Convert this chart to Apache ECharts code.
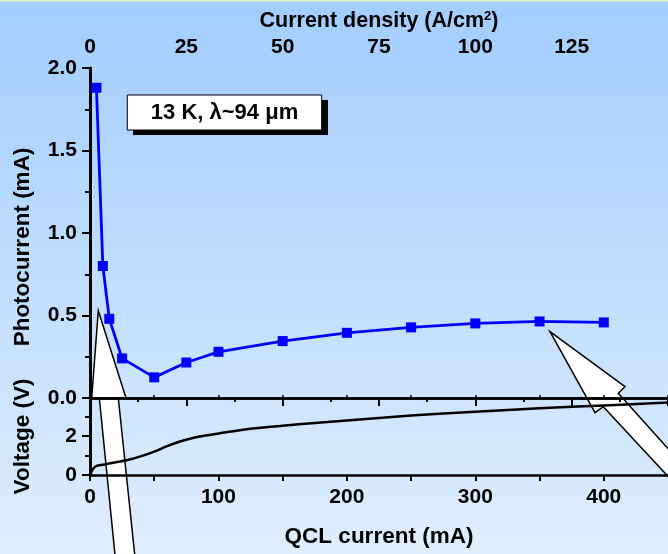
<!DOCTYPE html>
<html>
<head>
<meta charset="utf-8">
<script src="https://cdn.jsdelivr.net/npm/echarts@6/dist/echarts.min.js"></script>
<style>
html,body{margin:0;padding:0;}
#c{width:668px;height:554px;}
</style>
</head>
<body>
<div id="c"></div>
<script>
// Upper panel: photocurrent vs QCL current
const qclCurrentPhoto = [5, 10, 15, 25, 50, 75, 100, 150, 200, 250, 300, 350, 400];
const photocurrent = [1.88, 0.80, 0.48, 0.24, 0.125, 0.215, 0.28, 0.345, 0.395, 0.428, 0.452, 0.464, 0.458];
// Lower panel: voltage vs QCL current
const qclCurrentV = [0, 1, 2.5, 5, 10, 20, 30, 40, 50, 60, 70, 80, 90, 100, 125, 150, 175, 200, 250, 300, 350, 400, 450];
const voltage = [0, 0.15, 0.32, 0.47, 0.53, 0.65, 0.78, 0.97, 1.2, 1.48, 1.72, 1.9, 2.03, 2.13, 2.37, 2.53, 2.67, 2.8, 3.05, 3.25, 3.42, 3.57, 3.72];
const labelText = '13 K, \u03bb~94 \u03bcm';

const FF = "'Liberation Sans', Arial, sans-serif";
const FS = 21;
const NFS = 22.5;
const black = '#000';

const chart = echarts.init(document.getElementById('c'), null, {renderer: 'canvas'});

const lbl = (extra) => Object.assign({color: black, fontFamily: FF, fontWeight: 'bold', fontSize: FS}, extra || {});

const option = {
  animation: false,
  grid: [
    {left: 90, top: 68, width: 581.4, height: 330},
    {left: 90, top: 398, width: 581.4, height: 77},
    {left: 90, top: 68, width: 609.6, height: 330}
  ],
  xAxis: [
    {
      gridIndex: 0, type: 'value', position: 'bottom', min: 0, max: 450, interval: 50,
      axisLine: {lineStyle: {color: black, width: 2.5}},
      axisTick: {inside: true, length: 3, lineStyle: {color: black, width: 1.5}},
      axisLabel: {show: false}, splitLine: {show: false}
    },
    {
      gridIndex: 1, type: 'value', position: 'bottom', min: 0, max: 450, interval: 50,
      axisLine: {onZero: false, lineStyle: {color: black, width: 2.5}},
      axisTick: {length: 6, lineStyle: {color: black, width: 2}},
      axisLabel: lbl({margin: 12, showMaxLabel: false, formatter: v => (v % 100 === 0 ? String(v) : '')}),
      splitLine: {show: false},
      name: 'QCL current (mA)', nameLocation: 'middle', nameGap: 50,
      nameTextStyle: lbl({fontSize: NFS})
    },
    {
      gridIndex: 2, type: 'value', position: 'top', min: 0, max: 150, interval: 25,
      axisLine: {lineStyle: {color: black, width: 2.5}},
      axisTick: {inside: true, length: 8, lineStyle: {color: black, width: 2}},
      minorTick: {show: true, splitNumber: 2, length: 4, lineStyle: {color: black, width: 2}},
      axisLabel: lbl({margin: 10, showMaxLabel: false}),
      splitLine: {show: false}, minorSplitLine: {show: false},
      name: '{a|Current density (A/cm}{s|2}{a|)}', nameLocation: 'middle', nameGap: 36,
      nameTextStyle: {rich: {
        a: lbl({fontSize: 21.5}),
        s: lbl({fontSize: 13, verticalAlign: 'top', padding: [0, 0, 8, 0]})
      }}
    }
  ],
  yAxis: [
    {
      gridIndex: 0, type: 'value', min: 0, max: 2, interval: 0.5,
      axisLine: {lineStyle: {color: black, width: 3}},
      axisTick: {length: 8, lineStyle: {color: black, width: 2}},
      minorTick: {show: true, splitNumber: 2, length: 5, lineStyle: {color: black, width: 2}},
      axisLabel: lbl({margin: 13, formatter: v => v.toFixed(1)}),
      splitLine: {show: false}, minorSplitLine: {show: false},
      name: 'Photocurrent (mA)', nameLocation: 'middle', nameGap: 56,
      nameTextStyle: lbl({fontSize: NFS, padding: [0, 28, 0, 0]})
    },
    {
      gridIndex: 1, type: 'value', min: 0, max: 3.95, interval: 2,
      axisLine: {lineStyle: {color: black, width: 3}},
      axisTick: {length: 8, lineStyle: {color: black, width: 2}},
      minorTick: {show: true, splitNumber: 2, length: 5, lineStyle: {color: black, width: 2}},
      axisLabel: lbl({margin: 13, showMaxLabel: false}),
      splitLine: {show: false}, minorSplitLine: {show: false},
      name: 'Voltage (V)', nameLocation: 'middle', nameGap: 56,
      nameTextStyle: lbl({fontSize: NFS})
    },
    {gridIndex: 2, type: 'value', show: false, min: 0, max: 1}
  ],
  graphic: [
    {type: 'rect', z: -10, silent: true, shape: {x: 0, y: 0, width: 668, height: 554},
      style: {fill: new echarts.graphic.LinearGradient(0, 0, 0, 1, [
        {offset: 0, color: '#a2cdfd'}, {offset: 1, color: '#dfeefd'}])}},
    {type: 'rect', z: -9, silent: true, shape: {x: 0, y: 0, width: 668, height: 1.5}, style: {fill: '#eef0c6'}},
    // left arrow
    {type: 'polygon', z: -5, silent: true,
      shape: {points: [[98.3, 310.7], [126, 398], [118.3, 398], [135.8, 565], [116, 565], [99.3, 398], [91.7, 398]]},
      style: {fill: '#fff', stroke: black, lineWidth: 1.5}},
    // right arrow
    {type: 'polygon', z: -5, silent: true,
      shape: {points: [[550, 331.7], [625, 386.7], [618.3, 393.3], [690, 473], [690, 500], [603.3, 406.7], [595, 412.7]]},
      style: {fill: '#fff', stroke: black, lineWidth: 1.5}},
    // label box
    {type: 'rect', z: 10, silent: true, shape: {x: 133, y: 100, width: 195, height: 35}, style: {fill: black}},
    {type: 'rect', z: 11, silent: true, shape: {x: 127.3, y: 95, width: 194.4, height: 35},
      style: {fill: '#fff', stroke: black, lineWidth: 1}},
    {type: 'text', z: 12, silent: true, x: 224.5, y: 113,
      style: {text: labelText, fill: black, font: "bold 22px 'Liberation Sans', Arial, sans-serif", align: 'center', verticalAlign: 'middle'}}
  ],
  series: [
    {
      type: 'line', xAxisIndex: 0, yAxisIndex: 0,
      data: qclCurrentPhoto.map((x, i) => [x, photocurrent[i]]),
      symbol: 'rect', symbolSize: 10,
      lineStyle: {color: '#0000ff', width: 2.8},
      itemStyle: {color: '#0000ff'}
    },
    {
      type: 'line', xAxisIndex: 1, yAxisIndex: 1,
      data: qclCurrentV.map((x, i) => [x, voltage[i]]),
      symbol: 'none', smooth: 0.3,
      lineStyle: {color: black, width: 2.5}
    }
  ]
};
chart.setOption(option);
</script>
</body>
</html>
